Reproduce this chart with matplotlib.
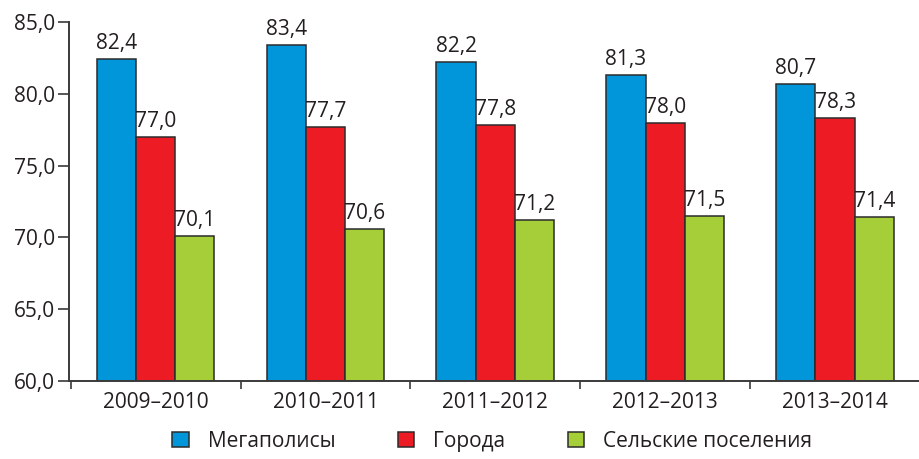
import matplotlib
matplotlib.use("Agg")
import matplotlib.pyplot as plt
import numpy as np

plt.rcParams['font.family'] = ['Open Sans', 'DejaVu Sans']

periods = ["2009–2010", "2010–2011", "2011–2012", "2012–2013", "2013–2014"]
megapolisy = [82.4, 83.4, 82.2, 81.3, 80.7]
goroda = [77.0, 77.7, 77.8, 78.0, 78.3]
selo = [70.1, 70.6, 71.2, 71.5, 71.4]
series_names = ["Мегаполисы", "Города", "Сельские поселения"]
colors = ["#0096d9", "#ed1c24", "#a6ce39"]

fig = plt.figure(figsize=(9.2, 4.59), dpi=100)
ax = fig.add_axes([0.075, 0.170, 0.925, 0.782])

x = np.arange(len(periods))
w = 0.231
for i, (vals, name, c) in enumerate(zip([megapolisy, goroda, selo], series_names, colors)):
    pos = x + (i - 1) * w
    ax.bar(pos, [v - 60 for v in vals], w, bottom=60, color=c,
           edgecolor="#2b2b2b", linewidth=1.1, label=name)
    for px, v in zip(pos, vals):
        ax.text(px, v + 0.35, f"{v:.1f}".replace(".", ","), ha="center",
                va="bottom", fontsize=15, color="#231f20")

ax.set_ylim(60, 85)
ax.set_xlim(-0.51, 4.44)
ax.set_yticks(np.arange(60, 86, 5))
ax.set_yticklabels([f"{t:.1f}".replace(".", ",") for t in np.arange(60, 86, 5)])
ax.set_xticks(x)
ax.set_xticklabels(periods)
ax.set_xticks(np.arange(-0.5, 4.6, 1), minor=True)
ax.tick_params(axis="x", which="major", length=0, pad=8, labelsize=15, colors="#231f20")
ax.tick_params(axis="x", which="minor", length=6, width=1.2, color="#3a3a3a")
ax.tick_params(axis="y", length=8, width=1.2, color="#3a3a3a", labelsize=15,
               labelcolor="#231f20", pad=2)
for s in ["top", "right"]:
    ax.spines[s].set_visible(False)
for s in ["left", "bottom"]:
    ax.spines[s].set_color("#3a3a3a")
    ax.spines[s].set_linewidth(1.4)

fig.legend(loc="lower center", bbox_to_anchor=(0.535, -0.025), ncol=3, frameon=False,
           fontsize=15, handlelength=0.8, handleheight=0.8, columnspacing=3.0,
           handletextpad=0.9, labelcolor="#231f20")

fig.savefig("out.png", dpi=100)
